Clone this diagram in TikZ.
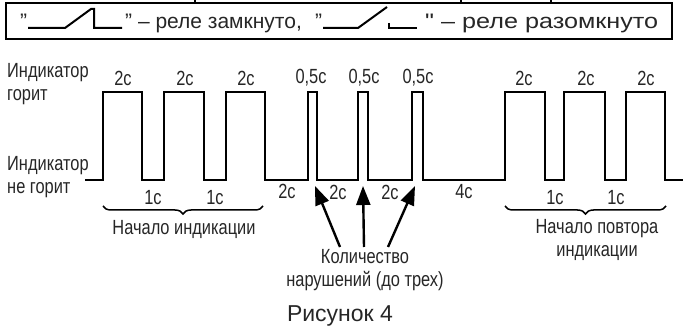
\documentclass[tikz,border=0pt]{standalone}
\usepackage{fontspec}
\setmainfont{Liberation Sans}
\newfontfamily\narrowfont{Liberation Sans}[FakeStretch=0.8]
\newfontfamily\wideletters{Liberation Sans}[FakeStretch=1.2]
\usetikzlibrary{arrows.meta,decorations.pathreplacing}

\begin{document}
\begin{tikzpicture}[
            x=1pt, y=-1pt,
            wave/.style={line width=2.4pt, line join=miter},
            frame/.style={line width=2pt},
            relay/.style={line width=2pt},
            lbl/.style={font=\narrowfont\fontsize{20.5}{23}\selectfont, inner sep=0pt, text=black!85},
            note/.style={font=\fontsize{21}{24}\selectfont, inner sep=0pt, anchor=base west, text=black!85},
            pointer/.style={line width=2.4pt, -{Triangle[length=19pt,width=14pt]}},
            brace/.style={decorate, decoration={brace, mirror, amplitude=8pt}, line width=1.5pt}
        ]
        \useasboundingbox (0,0) rectangle (683,328);

        % Legend box
        \draw[frame] (6,3) rectangle (672,39);
        \foreach \x in {195,461,551}
            \draw[frame] (\x,0) -- (\x,3);
        \node[note] (q-1) at (20,29) {"};
        \draw[relay] (28,28) -- (65,28) -- (91,9) -- (94,9) -- (94,28) -- (122,28);
        \node[note] (closed) at (125,29) {" – реле замкнуто,};
        \node[note] (q-2) at (315,29) {"};
        \draw[relay] (323,28) -- (358,28) -- (387,7);
        \draw[relay] (389,23) -- (389,28) -- (417,28);
        \node[note, font=\wideletters\fontsize{21}{24}\selectfont] (opened) at (425,29) {" – реле разомкнуто};

        % Level labels
        \node[lbl, align=left, anchor=west] (on) at (7,84) {Индикатор\\горит};
        \node[lbl, align=left, anchor=west] (off) at (7,177) {Индикатор\\не горит};

        % Signal
        \draw[wave] (85,180)
            \foreach \a/\b in {103/142,164/204,226/265,308/317,358/368,412/423,505/545,564/605,626/665}
                { -- (\a,180) -- (\a,92) -- (\b,92) -- (\b,180) }
            -- (684,180);

        % Pulse lengths
        \foreach \x/\t in {123/2с,185/2с,246/2с,311/{0,5с},364/{0,5с},418/{0,5с},524/2с,586/2с,646/2с}
            \node[lbl] (on-\x) at (\x,78) {\t};

        % Pause lengths
        \foreach \x/\y/\t in {153/198/1с,215/198/1с,287/191/2с,338/192/2с,390/192/2с,464/192/4с,555/198/1с,616/198/1с}
            \node[lbl] (off-\x) at (\x,\y) {\t};

        % Braces
        \coordinate (b1-l) at (103,206);
        \coordinate (b1-r) at (263,206);
        \coordinate (b2-l) at (505,206);
        \coordinate (b2-r) at (666,206);
        \draw[brace] (b1-l) -- (b1-r);
        \draw[brace] (b2-l) -- (b2-r);
        \node[lbl] (start) at (184,229) {Начало индикации};
        \node[lbl, align=center] (repeat) at (597,240) {Начало повтора\\индикации};

        % Violations
        \node[lbl, align=center] (count) at (365,270) {Количество\\нарушений (до трех)};
        \foreach \i/\s/\e in {1/340/315,2/364/363,3/388/415} {
            \coordinate (tail-\i) at (\s,247);
            \coordinate (tip-\i) at (\e,186);
            \draw[pointer] (tail-\i) -- (tip-\i);
        }

        % Caption
        \node[font=\fontsize{23}{26}\selectfont, text=black!85] (caption) at (340,316) {Рисунок 4};

        \end{tikzpicture}
\end{document}
